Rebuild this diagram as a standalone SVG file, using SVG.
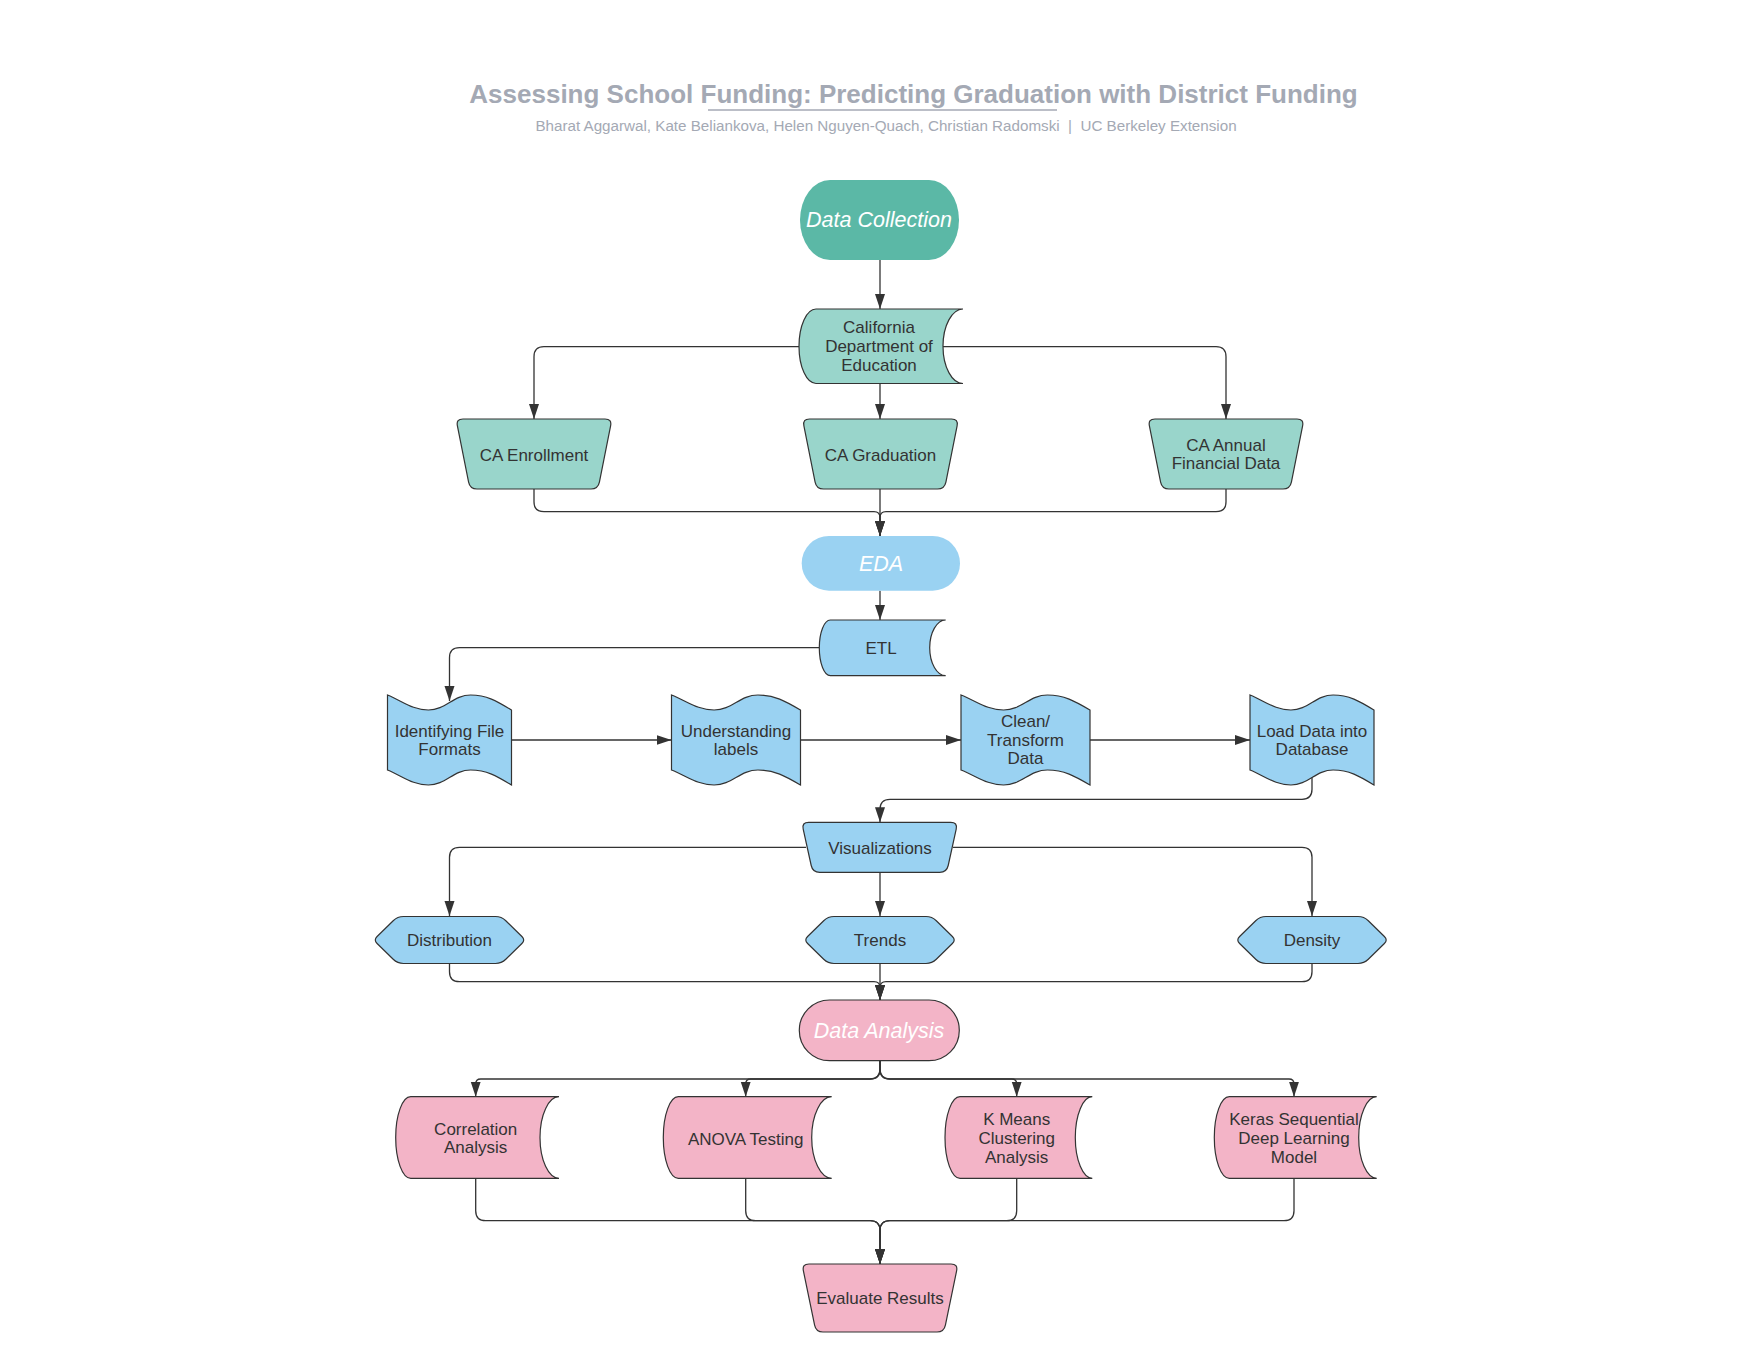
<svg xmlns="http://www.w3.org/2000/svg" width="1760" height="1360" viewBox="0 0 1760 1360">
<defs>
<style>
.n{stroke:#333;stroke-width:1.2}
.tl{fill:#99d5cb}.td{fill:#5bb8a6}.bl{fill:#9ad2f2}.pk{fill:#f3b4c7}
.t{font-family:"Liberation Sans",Arial,sans-serif;font-size:17px;fill:#333;text-anchor:middle}
.ti{font-family:"Liberation Sans",Arial,sans-serif;font-style:italic;font-size:21.5px;fill:#fff;text-anchor:middle}
.c{fill:none;stroke:#333;stroke-width:1.3}
.ttl{font-family:"Liberation Sans",Arial,sans-serif;font-weight:bold;font-size:26px;fill:#a4a9b4;text-anchor:middle}
.sub{font-family:"Liberation Sans",Arial,sans-serif;font-size:15.2px;fill:#a4a9b4;text-anchor:middle}
</style>
<marker id="ah" markerUnits="userSpaceOnUse" markerWidth="16" markerHeight="12" refX="15" refY="5" orient="auto">
<path d="M0,0 L15,5 L0,10 Z" fill="#333"/>
</marker>
<path id="trap" d="M7,0 H149 Q156,0 154.6,6.9 L143.4,63.1 Q142,70 135,70 H21 Q14,70 12.6,63.1 L1.4,6.9 Q0,0 7,0 Z"/>
<path id="wav124" d="M0,0 C14.9,6 24.8,15 40.9,15 C58.3,15 65.7,0 83.1,0 C99.2,0 109.1,6 124,15 L124,90 C109.1,81 99.2,75 83.1,75 C65.7,75 58.3,90 40.9,90 C24.8,90 14.9,81 0,75 Z"/>
<path id="wav129" d="M0,0 C15.5,6 25.8,15 42.6,15 C60.6,15 68.4,0 86.4,0 C103.2,0 113.5,6 129,15 L129,90 C113.5,81 103.2,75 86.4,75 C68.4,75 60.6,90 42.6,90 C25.8,90 15.5,81 0,75 Z"/>
<path id="hex" d="M-46,-23.5 H46 Q52,-23.5 56.3,-19.3 L72.4,-3.5 Q76,0 72.4,3.5 L56.3,19.3 Q52,23.5 46,23.5 H-46 Q-52,23.5 -56.3,19.3 L-72.4,3.5 Q-76,0 -72.4,-3.5 L-56.3,-19.3 Q-52,-23.5 -46,-23.5 Z"/>
</defs>
<rect width="1760" height="1360" fill="#fff"/>

<g id="title">
<text class="ttl" x="913.5" y="103">Assessing School Funding: Predicting Graduation with District Funding</text>
<line x1="708" y1="110" x2="1057" y2="110" stroke="#a4a9b4" stroke-width="1.5"/>
<text class="sub" x="886" y="131">Bharat Aggarwal, Kate Beliankova, Helen Nguyen-Quach, Christian Radomski &#160;| &#160;UC Berkeley Extension</text>
</g>

<g id="connectors">
<path class="c" d="M880,260 V309" marker-end="url(#ah)"/>
<path class="c" d="M799,346.7 H544 Q534,346.7 534,356.7 V419" marker-end="url(#ah)"/>
<path class="c" d="M880,383.5 V419" marker-end="url(#ah)"/>
<path class="c" d="M943,346.7 H1216 Q1226,346.7 1226,356.7 V419" marker-end="url(#ah)"/>
<path class="c" d="M534,489 V501.7 Q534,511.7 544,511.7 H874 Q880,511.7 880,517.7 V536" marker-end="url(#ah)"/>
<path class="c" d="M880,489 V536" marker-end="url(#ah)"/>
<path class="c" d="M1226,489 V501.7 Q1226,511.7 1216,511.7 H886 Q880,511.7 880,517.7 V536" marker-end="url(#ah)"/>
<path class="c" d="M880,590.7 V620" marker-end="url(#ah)"/>
<path class="c" d="M819.3,647.7 H459.5 Q449.5,647.7 449.5,657.7 V701" marker-end="url(#ah)"/>
<path class="c" d="M511.5,740 H671.5" marker-end="url(#ah)"/>
<path class="c" d="M800.5,740 H961" marker-end="url(#ah)"/>
<path class="c" d="M1090,740 H1250" marker-end="url(#ah)"/>
<path class="c" d="M1312,777 V789.3 Q1312,799.3 1302,799.3 H890 Q880,799.3 880,809.3 V822.3" marker-end="url(#ah)"/>
<path class="c" d="M806,847.3 H459.5 Q449.5,847.3 449.5,857.3 V916" marker-end="url(#ah)"/>
<path class="c" d="M880,872.3 V916" marker-end="url(#ah)"/>
<path class="c" d="M953,847.3 H1302 Q1312,847.3 1312,857.3 V916" marker-end="url(#ah)"/>
<path class="c" d="M449.5,963.3 V971.7 Q449.5,981.7 459.5,981.7 H874 Q880,981.7 880,987.7 V1000" marker-end="url(#ah)"/>
<path class="c" d="M880,963.3 V1000" marker-end="url(#ah)"/>
<path class="c" d="M1312,963.3 V971.7 Q1312,981.7 1302,981.7 H886 Q880,981.7 880,987.7 V1000" marker-end="url(#ah)"/>
<path class="c" d="M880,1060.7 V1069 Q880,1079 870,1079 H480.7 Q475.7,1079 475.7,1084 V1096.7" marker-end="url(#ah)"/>
<path class="c" d="M880,1060.7 V1069 Q880,1079 870,1079 H750.7 Q745.7,1079 745.7,1084 V1096.7" marker-end="url(#ah)"/>
<path class="c" d="M880,1060.7 V1069 Q880,1079 890,1079 H1011.7 Q1016.7,1079 1016.7,1084 V1096.7" marker-end="url(#ah)"/>
<path class="c" d="M880,1060.7 V1069 Q880,1079 890,1079 H1289 Q1294,1079 1294,1084 V1096.7" marker-end="url(#ah)"/>
<path class="c" d="M475.7,1178.3 V1210.7 Q475.7,1220.7 485.7,1220.7 H870 Q880,1220.7 880,1230.7 V1264" marker-end="url(#ah)"/>
<path class="c" d="M745.7,1178.3 V1210.7 Q745.7,1220.7 755.7,1220.7 H870 Q880,1220.7 880,1230.7 V1264" marker-end="url(#ah)"/>
<path class="c" d="M1016.7,1178.3 V1210.7 Q1016.7,1220.7 1006.7,1220.7 H890 Q880,1220.7 880,1230.7 V1264" marker-end="url(#ah)"/>
<path class="c" d="M1294,1178.3 V1210.7 Q1294,1220.7 1284,1220.7 H890 Q880,1220.7 880,1230.7 V1264" marker-end="url(#ah)"/>
</g>

<g id="data-collection">
<rect class="td" x="800" y="180" width="159" height="80" rx="30" ry="40"/>
<text class="ti" x="879" y="227">Data Collection</text>
</g>

<g id="ca-dept">
<path class="tl n" d="M816,309 H963 C952,309 943,325.6 943,346.25 C943,366.9 952,383.5 963,383.5 H816 C806.6,383.5 799,366.9 799,346.25 C799,325.6 806.6,309 816,309 Z"/>
<text class="t" x="879" y="333.3">California</text>
<text class="t" x="879" y="352.3">Department of</text>
<text class="t" x="879" y="370.7">Education</text>
</g>

<g id="ca-enrollment">
<use href="#trap" class="tl n" x="456" y="419"/>
<text class="t" x="534" y="460.7">CA Enrollment</text>
</g>

<g id="ca-graduation">
<use href="#trap" class="tl n" x="802.5" y="419"/>
<text class="t" x="880.5" y="460.7">CA Graduation</text>
</g>

<g id="ca-annual">
<use href="#trap" class="tl n" x="1148" y="419"/>
<text class="t" x="1226" y="450.7">CA Annual</text>
<text class="t" x="1226" y="469.3">Financial Data</text>
</g>

<g id="eda">
<rect class="bl" x="801.7" y="536" width="158.3" height="54.7" rx="27.3"/>
<text class="ti" x="881" y="571">EDA</text>
</g>

<g id="etl">
<path class="bl n" d="M830.3,620 H945.7 C936.9,620 929.7,632.5 929.7,647.85 C929.7,663.2 936.9,675.7 945.7,675.7 H830.3 C824.2,675.7 819.3,663.2 819.3,647.85 C819.3,632.5 824.2,620 830.3,620 Z"/>
<text class="t" x="881" y="654">ETL</text>
</g>

<g id="identifying">
<use href="#wav124" class="bl n" x="387.5" y="695"/>
<text class="t" x="449.5" y="736.7">Identifying File</text>
<text class="t" x="449.5" y="755">Formats</text>
</g>

<g id="understanding">
<use href="#wav129" class="bl n" x="671.5" y="695"/>
<text class="t" x="736" y="736.7">Understanding</text>
<text class="t" x="736" y="755">labels</text>
</g>

<g id="clean">
<use href="#wav129" class="bl n" x="961" y="695"/>
<text class="t" x="1025.5" y="726.7">Clean/</text>
<text class="t" x="1025.5" y="745.7">Transform</text>
<text class="t" x="1025.5" y="764">Data</text>
</g>

<g id="load">
<use href="#wav124" class="bl n" x="1250" y="695"/>
<text class="t" x="1312" y="736.7">Load Data into</text>
<text class="t" x="1312" y="755">Database</text>
</g>

<g id="visualizations">
<path class="bl n" transform="translate(801.7,822.3)" d="M7,0 H149 Q156,0 154.5,6.8 L146.5,43.2 Q145,50 138,50 H18 Q11,50 9.5,43.2 L1.5,6.8 Q0,0 7,0 Z"/>
<text class="t" x="880" y="854">Visualizations</text>
</g>

<g id="distribution">
<use href="#hex" class="bl n" x="449.5" y="940"/>
<text class="t" x="449.5" y="946">Distribution</text>
</g>

<g id="trends">
<use href="#hex" class="bl n" x="880" y="940"/>
<text class="t" x="880" y="946">Trends</text>
</g>

<g id="density">
<use href="#hex" class="bl n" x="1312" y="940"/>
<text class="t" x="1312" y="946">Density</text>
</g>

<g id="data-analysis">
<rect class="pk n" x="799.3" y="1000" width="160" height="60.7" rx="30.3"/>
<text class="ti" x="879" y="1037.5">Data Analysis</text>
</g>

<g id="correlation">
<path class="pk n" d="M410.7,1096.7 H559 C548.5,1096.7 540,1115 540,1137.5 C540,1160 548.5,1178.3 559,1178.3 H410.7 C402.4,1178.3 395.7,1160 395.7,1137.5 C395.7,1115 402.4,1096.7 410.7,1096.7 Z"/>
<text class="t" x="475.7" y="1135">Correlation</text>
<text class="t" x="475.7" y="1153.3">Analysis</text>
</g>

<g id="anova">
<path class="pk n" d="M678.3,1096.7 H831.7 C820.7,1096.7 811.7,1115 811.7,1137.5 C811.7,1160 820.7,1178.3 831.7,1178.3 H678.3 C670,1178.3 663.3,1160 663.3,1137.5 C663.3,1115 670,1096.7 678.3,1096.7 Z"/>
<text class="t" x="745.7" y="1145">ANOVA Testing</text>
</g>

<g id="kmeans">
<path class="pk n" d="M960,1096.7 H1092.3 C1082.9,1096.7 1075.3,1115 1075.3,1137.5 C1075.3,1160 1082.9,1178.3 1092.3,1178.3 H960 C951.7,1178.3 945,1160 945,1137.5 C945,1115 951.7,1096.7 960,1096.7 Z"/>
<text class="t" x="1016.7" y="1125">K Means</text>
<text class="t" x="1016.7" y="1144">Clustering</text>
<text class="t" x="1016.7" y="1162.7">Analysis</text>
</g>

<g id="keras">
<path class="pk n" d="M1229.3,1096.7 H1376.7 C1366.8,1096.7 1358.7,1115 1358.7,1137.5 C1358.7,1160 1366.8,1178.3 1376.7,1178.3 H1229.3 C1221,1178.3 1214.3,1160 1214.3,1137.5 C1214.3,1115 1221,1096.7 1229.3,1096.7 Z"/>
<text class="t" x="1294" y="1125">Keras Sequential</text>
<text class="t" x="1294" y="1144">Deep Learning</text>
<text class="t" x="1294" y="1162.7">Model</text>
</g>

<g id="evaluate">
<path class="pk n" transform="translate(802,1264)" d="M7,0 H149 Q156,0 154.6,6.9 L143.4,61.1 Q142,68 135,68 H21 Q14,68 12.6,61.1 L1.4,6.9 Q0,0 7,0 Z"/>
<text class="t" x="880" y="1303.5">Evaluate Results</text>
</g>
</svg>
